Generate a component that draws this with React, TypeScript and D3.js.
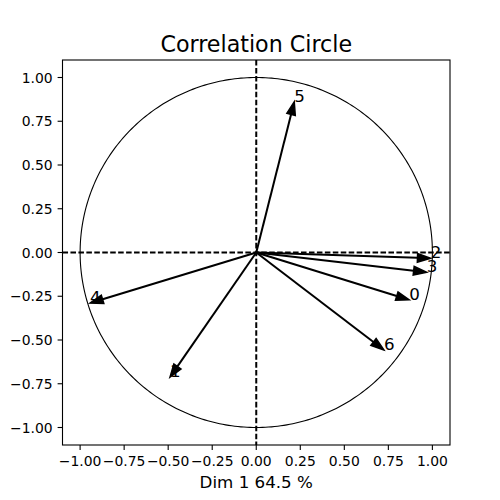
import React from 'react';
import * as d3 from 'd3';

// variables and their coordinates on the first two dimensions
const variables: string[] = ['0', '1', '2', '3', '4', '5', '6'];
const dim1: number[] = [0.869, -0.49, 0.99, 0.968, -0.944, 0.216, 0.725];
const dim2: number[] = [-0.271, -0.713, -0.033, -0.113, -0.289, 0.862, -0.557];
const tickValues: number[] = [-1, -0.75, -0.5, -0.25, 0, 0.25, 0.5, 0.75, 1];

const title = 'Correlation Circle';
const xLabel = 'Dim 1 64.5 %';

const width = 500;
const height = 500;
const margin = { top: 60, right: 50, bottom: 55, left: 62.5 };

function App() {
    const x = d3.scaleLinear().domain([-1.1, 1.1]).range([margin.left, width - margin.right]);
    const y = d3.scaleLinear().domain([-1.1, 1.1]).range([height - margin.bottom, margin.top]);
    const fmt = d3.format('.2f');
    const font = 'DejaVu Sans, sans-serif';

    const headLen = 0.075 * (x(1) - x(0));
    const headHalf = 0.025 * (x(1) - x(0));

    const circle = d3.line<number>()
        .x((t) => x(Math.cos(t)))
        .y((t) => y(Math.sin(t)))
        .curve(d3.curveLinearClosed)(d3.range(0, 360, 1).map((a) => (a * Math.PI) / 180));

    const x0 = x(0), y0 = y(0);
    const left = x.range()[0], right = x.range()[1];
    const top = y.range()[1], bottom = y.range()[0];

    return (
        <svg width={width} height={height} style={{ position: 'absolute', left: 0, top: 0, background: 'white' }}
            fontFamily={font}>
            <path d={circle || ''} fill="none" stroke="black" strokeWidth={1.1} />

            {variables.map((v, i) => {
                const tx = x(dim1[i]), ty = y(dim2[i]);
                const dx = tx - x0, dy = ty - y0;
                const L = Math.hypot(dx, dy);
                const ux = dx / L, uy = dy / L;
                const bx = tx - ux * headLen, by = ty - uy * headLen;
                const pts = [
                    [tx, ty],
                    [bx - uy * headHalf, by + ux * headHalf],
                    [bx + uy * headHalf, by - ux * headHalf],
                ].map((p) => p.join(',')).join(' ');
                return (
                    <g key={v}>
                        <line x1={x0} y1={y0} x2={bx} y2={by} stroke="black" strokeWidth={2} />
                        <polygon points={pts} fill="black" stroke="black" strokeWidth={1.4} />
                    </g>
                );
            })}

            <line x1={left} x2={right} y1={y0} y2={y0} stroke="black" strokeWidth={2} strokeDasharray="5.55,2.4" />
            <line x1={x0} x2={x0} y1={top} y2={bottom} stroke="black" strokeWidth={2} strokeDasharray="5.55,2.4" />

            {variables.map((v, i) => (
                <text key={'l' + v} x={x(dim1[i])} y={y(dim2[i])} fontSize={16.7} fill="black">{v}</text>
            ))}

            <rect x={left} y={top} width={right - left} height={bottom - top} fill="none" stroke="black" strokeWidth={1.1} />

            {tickValues.map((t) => (
                <g key={'xt' + t}>
                    <line x1={x(t)} x2={x(t)} y1={bottom} y2={bottom + 4.9} stroke="black" strokeWidth={1.1} />
                    <text x={x(t)} y={bottom + 21} textAnchor="middle" fontSize={13.9}>{fmt(t)}</text>
                </g>
            ))}
            {tickValues.map((t) => (
                <g key={'yt' + t}>
                    <line x1={left} x2={left - 4.9} y1={y(t)} y2={y(t)} stroke="black" strokeWidth={1.1} />
                    <text x={left - 9.8} y={y(t) + 5} textAnchor="end" fontSize={13.9}>{fmt(t)}</text>
                </g>
            ))}

            <text x={(left + right) / 2} y={51.7} textAnchor="middle" fontSize={22.2}>{title}</text>
            <text x={(left + right) / 2} y={487.5} textAnchor="middle" fontSize={16.7}>{xLabel}</text>
        </svg>
    );
}

export default App;
